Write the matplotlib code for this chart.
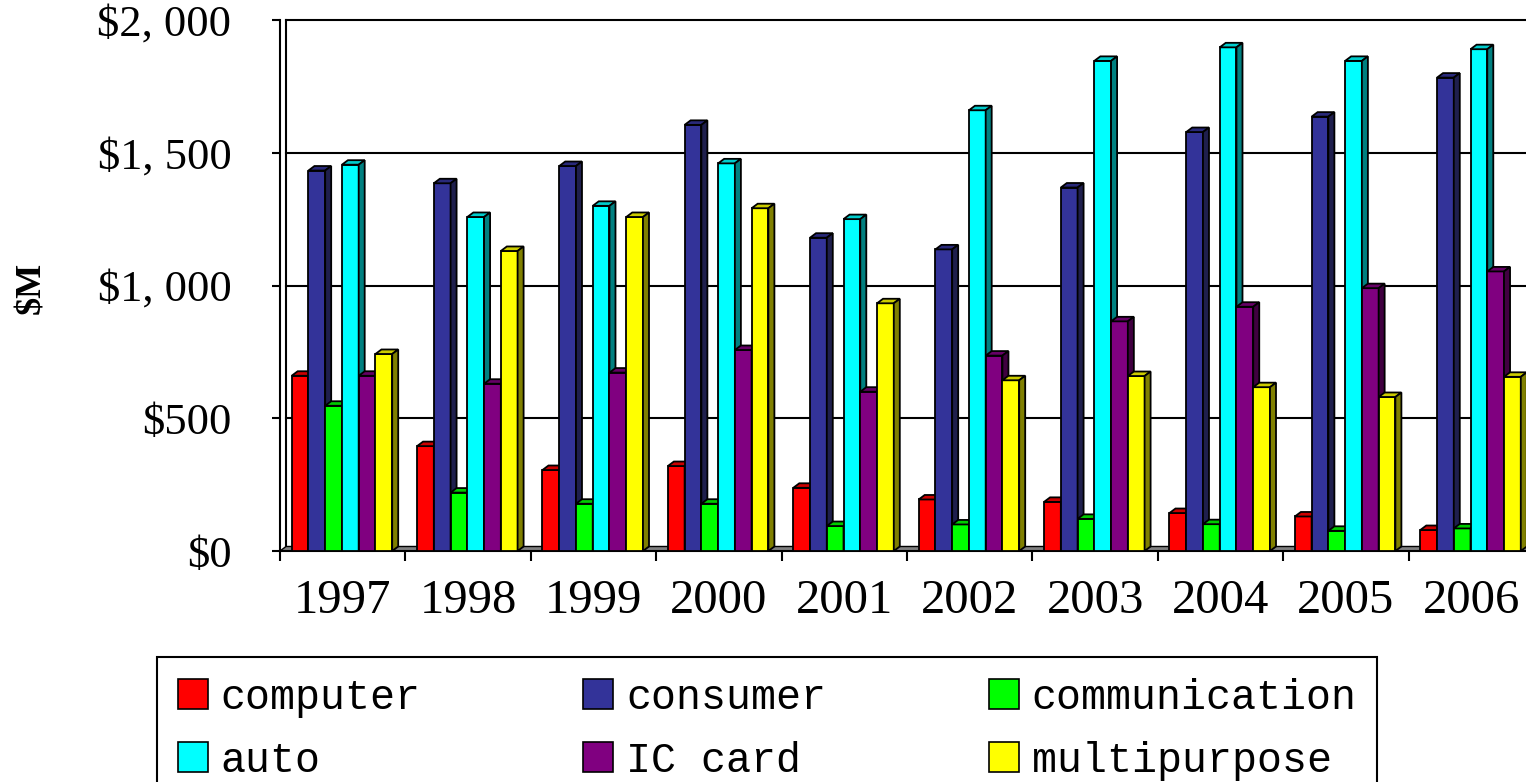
import numpy as np
import matplotlib
matplotlib.use('Agg')
import matplotlib.pyplot as plt
from matplotlib.patches import Polygon, Patch

# values ($M)
years = ['1997', '1998', '1999', '2000', '2001', '2002', '2003', '2004', '2005', '2006']
computer = [660, 395, 305, 320, 238, 194, 185, 143, 130, 79]
consumer = [1433, 1385, 1450, 1605, 1180, 1136, 1369, 1578, 1636, 1783]
communication = [547, 220, 178, 178, 94, 100, 121, 101, 76, 85]
auto = [1455, 1258, 1300, 1460, 1250, 1660, 1846, 1897, 1846, 1890]
ic_card = [660, 630, 672, 757, 600, 736, 865, 920, 990, 1053]
multipurpose = [742, 1130, 1258, 1291, 933, 643, 659, 617, 580, 656]

names = ['computer', 'consumer', 'communication', 'auto', 'IC card', 'multipurpose']
series = [computer, consumer, communication, auto, ic_card, multipurpose]
# front, top, side colours
front_c = ['#FF0000', '#333399', '#00FF00', '#00FFFF', '#800080', '#FFFF00']
top_c = ['#CC0000', '#29297A', '#00CC00', '#00CCCC', '#660066', '#CCCC00']
side_c = ['#800000', '#1F1F4D', '#008000', '#008080', '#400040', '#808000']

W, H = 1526, 782
fig = plt.figure(figsize=(W / 100, H / 100), dpi=100)
ax = fig.add_axes([280 / W, (H - 551) / H, 1254 / W, 531 / H])

x = np.arange(len(years))
bar_w = 0.1336
start = 0.093
dx = 0.048   # 3d depth, x (data units)
dy = 17      # 3d depth, y (data units)

# back wall gridlines + floor
for g in [500, 1000, 1500, 2000]:
    ax.plot([dx, len(years) + dx], [g, g], color='black', lw=1.5, zorder=1, clip_on=False)
ax.plot([dx, dx], [dy, 2000], color='black', lw=1.5, zorder=1, clip_on=False)
ax.add_patch(Polygon([(0, 0), (len(years) + 0.5, 0), (len(years) + 0.5 + dx, dy), (dx, dy)],
                     closed=True, fc='#808080', ec='black', lw=1.0, zorder=1.5))

for j, vals in enumerate(series):
    pos = x + start + j * bar_w
    z = 3 + j
    ax.bar(pos, vals, width=bar_w, align='edge', color=front_c[j],
           edgecolor='black', linewidth=1.3, zorder=z)
    for p, v in zip(pos, vals):
        ax.add_patch(Polygon([(p, v), (p + bar_w, v), (p + bar_w + dx, v + dy), (p + dx, v + dy)],
                             closed=True, fc=top_c[j], ec='black', lw=1.3, zorder=z))
        ax.add_patch(Polygon([(p + bar_w, 0), (p + bar_w + dx, dy), (p + bar_w + dx, v + dy), (p + bar_w, v)],
                             closed=True, fc=side_c[j], ec='black', lw=1.3, zorder=z))

ax.set_xlim(0, len(years))
ax.set_ylim(0, 2000)

for s in ['top', 'right']:
    ax.spines[s].set_visible(False)
for s in ['left', 'bottom']:
    ax.spines[s].set_linewidth(1.5)
    ax.spines[s].set_zorder(2)

# y axis
yt = [0, 500, 1000, 1500, 2000]
ax.set_yticks(yt, [r'\$0', r'\$500', r'\$1, 000', r'\$1, 500', r'\$2, 000'],
              family='Liberation Serif', fontsize=32)
ax.tick_params(axis='y', direction='out', length=6, width=1.5, pad=29)

# x axis: ticks at group edges, labels in the middle
ax.set_xticks(np.arange(len(years) + 1), [''] * (len(years) + 1))
ax.set_xticks(x + 0.5, years, minor=True, family='Liberation Serif', fontsize=35)
ax.tick_params(axis='x', which='major', direction='out', length=7, width=1.5)
ax.tick_params(axis='x', which='minor', length=0, pad=20)

fig.text(32 / W, 1 - 288 / H, r'\$M', rotation=90, ha='center', va='center',
         fontsize=26, fontweight='bold', family='Liberation Serif')

# legend, row-major order for 3 columns
handles = [Patch(fc=front_c[j], ec='black', lw=1.2) for j in range(6)]
order = [0, 3, 1, 4, 2, 5]
leg = fig.legend([handles[i] for i in order], [names[i] for i in order], ncol=3,
                 loc='upper left', bbox_to_anchor=(157 / W, 1 - 657 / H),
                 bbox_transform=fig.transFigure, borderaxespad=0,
                 prop={'family': 'Liberation Mono', 'size': 30},
                 handlelength=0.72, handleheight=0.72, handletextpad=0.31,
                 columnspacing=3.9, labelspacing=0.55, borderpad=0.5,
                 fancybox=False, framealpha=1, edgecolor='black')
leg.get_frame().set_linewidth(1.5)

fig.savefig('out.png', dpi=100)
